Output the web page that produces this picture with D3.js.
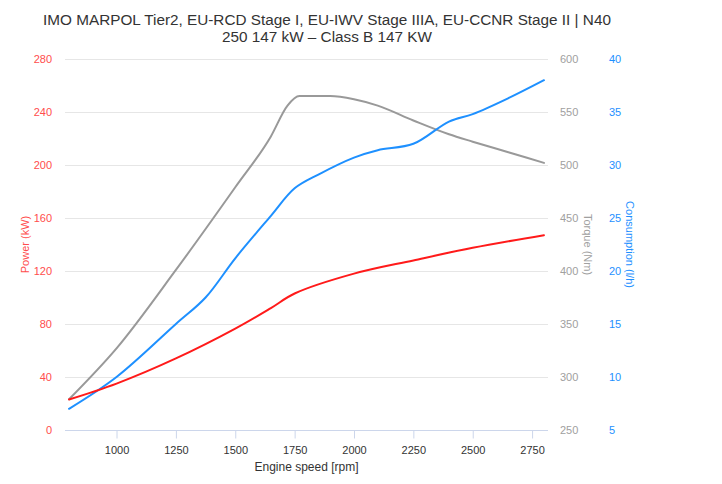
<!DOCTYPE html>
<html>
<head>
<meta charset="utf-8">
<script src="https://cdn.jsdelivr.net/npm/d3@7"></script>
<style>
  body { margin: 0; background: #fff; }
  svg { font-family: "Liberation Sans", Arial, sans-serif; }
</style>
</head>
<body>
<svg id="chart" width="722" height="484"></svg>
<script>
const titleLines = [
  "IMO MARPOL Tier2, EU-RCD Stage I, EU-IWV Stage IIIA, EU-CCNR Stage II | N40",
  "250 147 kW \u2013 Class B 147 KW",
];

// engine speed [rpm]
const powerRpm = [800, 1000, 1250, 1500, 1650, 1750, 2000, 2250, 2500, 2800];
const powerKw = [23, 35, 54, 76.5, 92, 103, 118, 128, 137.5, 147];

const torqueRpm = [800, 1000, 1250, 1500, 1650, 1720, 1770, 1900, 2000, 2100, 2250, 2400, 2500, 2650, 2800];
const torqueNm = [279, 327, 401, 479, 527, 556, 565, 565, 562, 556, 542, 529, 522, 512, 502];

const consRpm = [800, 1000, 1250, 1375, 1500, 1650, 1750, 1850, 2000, 2100, 2250, 2400, 2500, 2650, 2800];
const consLh = [7, 10, 15, 17.5, 21.2, 25.2, 27.8, 29.1, 30.7, 31.4, 32, 34.1, 34.8, 36.3, 38];

const xTicks = [1000, 1250, 1500, 1750, 2000, 2250, 2500, 2750];
const powerTicks = [0, 40, 80, 120, 160, 200, 240, 280];
const torqueTicks = [250, 300, 350, 400, 450, 500, 550, 600];
const consTicks = [5, 10, 15, 20, 25, 30, 35, 40];

const colors = {
  power: "#ff1a1a",
  powerText: "#ff4d4d",
  torque: "#999999",
  torqueText: "#a0a0a0",
  cons: "#1e90ff",
  text: "#333333",
};

const plot = { left: 65, right: 548, top: 59, bottom: 430 };

const svg = d3.select("#chart");

const x = d3.scaleLinear().domain([783, 2817]).range([plot.left, plot.right]);
const yPower = d3.scaleLinear().domain([0, 280]).range([plot.bottom, plot.top]);
const yTorque = d3.scaleLinear().domain([250, 600]).range([plot.bottom, plot.top]);
const yCons = d3.scaleLinear().domain([5, 40]).range([plot.bottom, plot.top]);

// title
svg.append("text")
  .attr("x", 327)
  .attr("y", 25)
  .attr("text-anchor", "middle")
  .style("font-size", "15.3px")
  .style("fill", colors.text)
  .selectAll("tspan")
  .data(titleLines)
  .enter()
  .append("tspan")
  .attr("x", 327)
  .attr("dy", (d, i) => (i === 0 ? 0 : 17))
  .text(d => d);

// grid lines
svg.append("g")
  .selectAll("line")
  .data(powerTicks.slice(1))
  .enter()
  .append("line")
  .attr("x1", plot.left)
  .attr("x2", plot.right)
  .attr("y1", d => Math.round(yPower(d)) + 0.5)
  .attr("y2", d => Math.round(yPower(d)) + 0.5)
  .style("stroke", "#e6e6e6");

// x axis
const xAxis = d3.axisBottom(x)
  .tickValues(xTicks)
  .tickFormat(d3.format("d"))
  .tickSize(8)
  .tickPadding(8);
const gx = svg.append("g")
  .attr("transform", "translate(0," + (plot.bottom + 0.5) + ")")
  .call(xAxis);
gx.select(".domain").style("stroke", "#ccd6eb").attr("d", "M" + plot.left + ",0H" + plot.right);
gx.selectAll(".tick line").style("stroke", "#ccd6eb");
gx.selectAll(".tick text")
  .style("font-size", "11px")
  .style("fill", colors.text)
  .style("font-family", "Liberation Sans, Arial, sans-serif");

svg.append("text")
  .attr("x", (plot.left + plot.right) / 2)
  .attr("y", 471)
  .attr("text-anchor", "middle")
  .style("font-size", "12px")
  .style("fill", colors.text)
  .text("Engine speed [rpm]");

// y axes labels
function axisLabels(ticks, scale, xPos, anchor, color) {
  svg.append("g")
    .selectAll("text")
    .data(ticks)
    .enter()
    .append("text")
    .attr("x", xPos)
    .attr("y", d => scale(d) + 4)
    .attr("text-anchor", anchor)
    .style("font-size", "11px")
    .style("fill", color)
    .text(d => d);
}

axisLabels(powerTicks, yPower, 52, "end", colors.powerText);
axisLabels(torqueTicks, yTorque, 560, "start", colors.torqueText);
axisLabels(consTicks, yCons, 609, "start", colors.cons);

const midY = (plot.top + plot.bottom) / 2;

svg.append("text")
  .attr("transform", "translate(29," + midY + ") rotate(-90)")
  .attr("text-anchor", "middle")
  .style("font-size", "11px")
  .style("fill", colors.powerText)
  .text("Power (kW)");

svg.append("text")
  .attr("transform", "translate(584," + midY + ") rotate(90)")
  .attr("text-anchor", "middle")
  .style("font-size", "11px")
  .style("fill", colors.torqueText)
  .text("Torque (Nm)");

svg.append("text")
  .attr("transform", "translate(626," + midY + ") rotate(90)")
  .attr("text-anchor", "middle")
  .style("font-size", "11px")
  .style("fill", colors.cons)
  .text("Consumption (l/h)");

// series
function drawSeries(rpm, values, scale, color, curve) {
  const line = d3.line()
    .x(d => x(d[0]))
    .y(d => scale(d[1]))
    .curve(curve);
  svg.append("path")
    .datum(rpm.map((r, i) => [r, values[i]]))
    .attr("d", line)
    .style("fill", "none")
    .style("stroke", color)
    .style("stroke-width", 2)
    .style("stroke-linejoin", "round")
    .style("stroke-linecap", "round");
}

drawSeries(torqueRpm, torqueNm, yTorque, colors.torque, d3.curveMonotoneX);
drawSeries(consRpm, consLh, yCons, colors.cons, d3.curveCatmullRom.alpha(0.5));
drawSeries(powerRpm, powerKw, yPower, colors.power, d3.curveCatmullRom.alpha(0.5));
</script>
</body>
</html>
